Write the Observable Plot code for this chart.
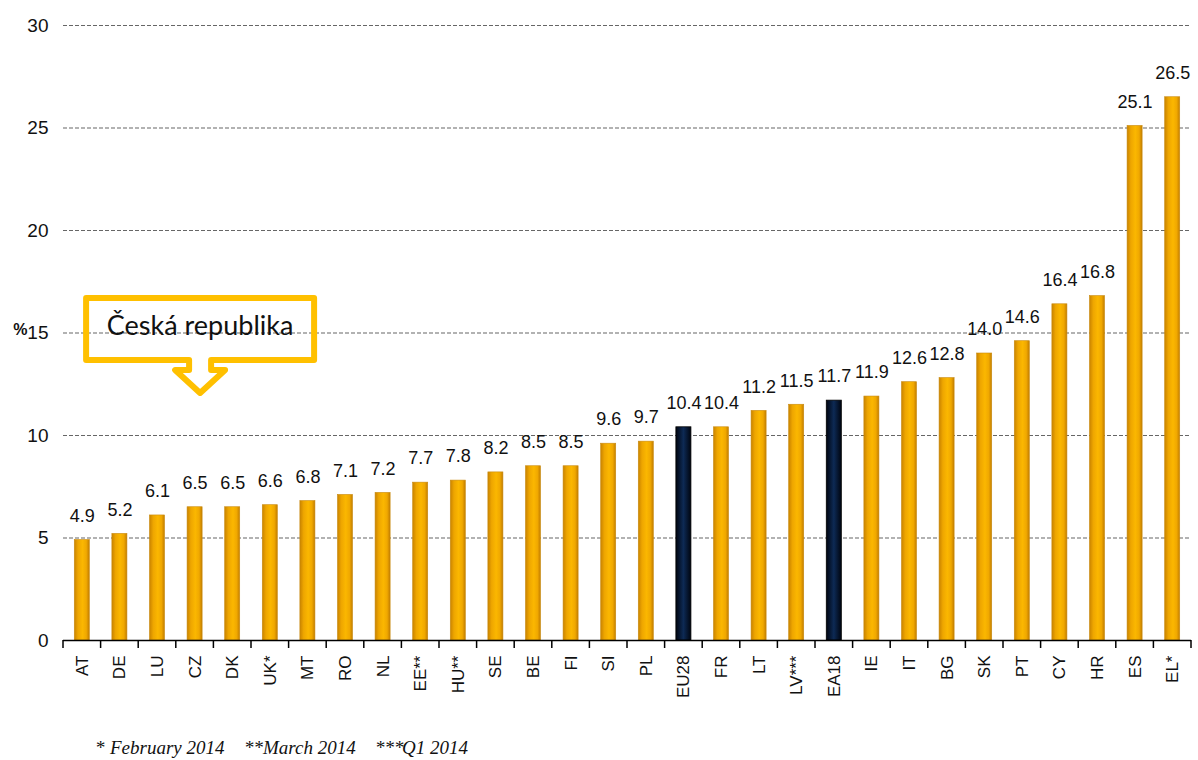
<!DOCTYPE html>
<html>
<head>
<meta charset="utf-8">
<script src="https://cdn.jsdelivr.net/npm/d3@7"></script>
<script src="https://cdn.jsdelivr.net/npm/@observablehq/plot@0.6"></script>
<style>
  body { margin: 0; background: #fff; }
  #wrap { position: relative; width: 1198px; height: 760px; overflow: hidden; }
  #foot { position: relative; height: 24px; font-family: "Liberation Serif", "Times New Roman", serif; font-style: italic; font-size: 19px; color: #111; }
  #foot span { position: absolute; top: 0; line-height: 24px; white-space: nowrap; }
</style>
</head>
<body>
<div id="wrap">
  <div id="chart"></div>
  <div id="foot"></div>
</div>
<script>
const codes = ["AT","DE","LU","CZ","DK","UK*","MT","RO","NL","EE**","HU**","SE","BE","FI","SI","PL","EU28","FR","LT","LV***","EA18","IE","IT","BG","SK","PT","CY","HR","ES","EL*"];
const values = [4.9,5.2,6.1,6.5,6.5,6.6,6.8,7.1,7.2,7.7,7.8,8.2,8.5,8.5,9.6,9.7,10.4,10.4,11.2,11.5,11.7,11.9,12.6,12.8,14.0,14.6,16.4,16.8,25.1,26.5];
const aggregates = ["EU28","EA18"];
const yTicks = [0,5,10,15,20,25,30];
const gridValues = [5,10,15,20,25,30];
const footnotes = [
  {text: "*", left: 95}, {text: "February 2014", left: 110},
  {text: "**", left: 244}, {text: "March 2014", left: 263},
  {text: "***", left: 375}, {text: "Q1 2014", left: 402}
];
const calloutText = "Česká republika";
const calloutTarget = "CZ";

const data = codes.map((c, i) => ({code: c, value: values[i], agg: aggregates.includes(c)}));
const sans = "'Liberation Sans', Arial, sans-serif";

// boundary ticks on x axis
function boundaryTicks(index, scales) {
  const x = scales.x, y = scales.y;
  const step = x(codes[1]) - x(codes[0]);
  const bw = x.bandwidth();
  const g = d3.create("svg:g");
  const y0 = y(0);
  const xs = codes.map(c => x(c) + bw / 2 - step / 2);
  xs.push(x(codes[codes.length - 1]) + bw / 2 + step / 2);
  for (const xv of xs) {
    g.append("line").attr("x1", xv).attr("x2", xv).attr("y1", y0).attr("y2", y0 + 8)
      .attr("stroke", "#000").attr("stroke-width", 1.5);
  }
  return g.node();
}

// callout anchored to CZ bar via scales
function callout(index, scales) {
  const x = scales.x, y = scales.y;
  const tx = x(calloutTarget) + x.bandwidth() / 2 + 5.5;
  const ty = y(12.05);
  const p = [
    [tx - 114, ty - 95], [tx + 114, ty - 95], [tx + 114, ty - 33],
    [tx + 11, ty - 33], [tx + 11, ty - 23], [tx + 25, ty - 23], [tx, ty],
    [tx - 25, ty - 23], [tx - 11, ty - 23], [tx - 11, ty - 33], [tx - 114, ty - 33]
  ];
  const g = d3.create("svg:g");
  g.append("path").attr("d", "M" + p.map(q => q.join(",")).join("L") + "Z")
    .attr("fill", "none").attr("stroke", "#FFC000").attr("stroke-width", 6)
    .attr("stroke-linejoin", "round");
  g.append("text").attr("x", tx).attr("y", ty - 58).attr("text-anchor", "middle")
    .attr("font-family", "Lato, 'Open Sans', sans-serif").attr("font-size", 27)
    .attr("fill", "#111").text(calloutText);
  return g.node();
}

const plot = Plot.plot({
  width: 1198,
  height: 736,
  marginLeft: 63,
  marginRight: 7,
  marginTop: 25,
  marginBottom: 96,
  style: {background: "#fff", color: "#111"},
  x: {domain: codes, paddingInner: 0.6, paddingOuter: 0.3, round: false, label: null},
  y: {domain: [0, 30], label: null},
  marks: [
    Plot.ruleY(gridValues, {stroke: "#666", strokeWidth: 1.2, strokeDasharray: "4,2"}),
    Plot.axisY({ticks: yTicks, tickSize: 0, tickPadding: 15, fontSize: 19, fontFamily: sans, label: null}),
    Plot.text(["%"], {frameAnchor: "left", y: [15], dx: -36, dy: -3, text: d => d, fontSize: 16, fontFamily: sans, fontWeight: "bold", textAnchor: "end"}),
    Plot.axisX({tickSize: 0, tickRotate: -90, tickPadding: 15, fontSize: 17, fontFamily: sans, label: null}),
    Plot.barY(data.filter(d => !d.agg), {x: "code", y: "value", fill: "url(#goldGrad)", stroke: "#c98a10", strokeWidth: 0.6}),
    Plot.barY(data.filter(d => d.agg), {x: "code", y: "value", fill: "url(#darkGrad)", stroke: "#000", strokeWidth: 0.8}),
    Plot.text(data, {x: "code", y: "value", text: d => d.value.toFixed(1), dy: -24, fontSize: 18, fontFamily: sans, fill: "#111"}),
    Plot.ruleY([0], {stroke: "#000", strokeWidth: 1.5}),
    boundaryTicks,
    callout
  ]
});

// gradients
const svg = d3.select(plot);
const defs = svg.insert("defs", ":first-child");
const gold = defs.append("linearGradient").attr("id", "goldGrad").attr("x1", 0).attr("x2", 1).attr("y1", 0).attr("y2", 0);
[[0, "#c98300"], [0.25, "#eea600"], [0.55, "#fbb700"], [0.8, "#f0a800"], [1, "#c27d00"]]
  .forEach(([o, c]) => gold.append("stop").attr("offset", o).attr("stop-color", c));
const dark = defs.append("linearGradient").attr("id", "darkGrad").attr("x1", 0).attr("x2", 1).attr("y1", 0).attr("y2", 0);
[[0, "#000510"], [0.5, "#0d2a55"], [1, "#000510"]]
  .forEach(([o, c]) => dark.append("stop").attr("offset", o).attr("stop-color", c));

document.getElementById("chart").appendChild(plot);
const foot = d3.select("#foot");
footnotes.forEach(f => foot.append("span").style("left", f.left + "px").text(f.text));
</script>
</body>
</html>
